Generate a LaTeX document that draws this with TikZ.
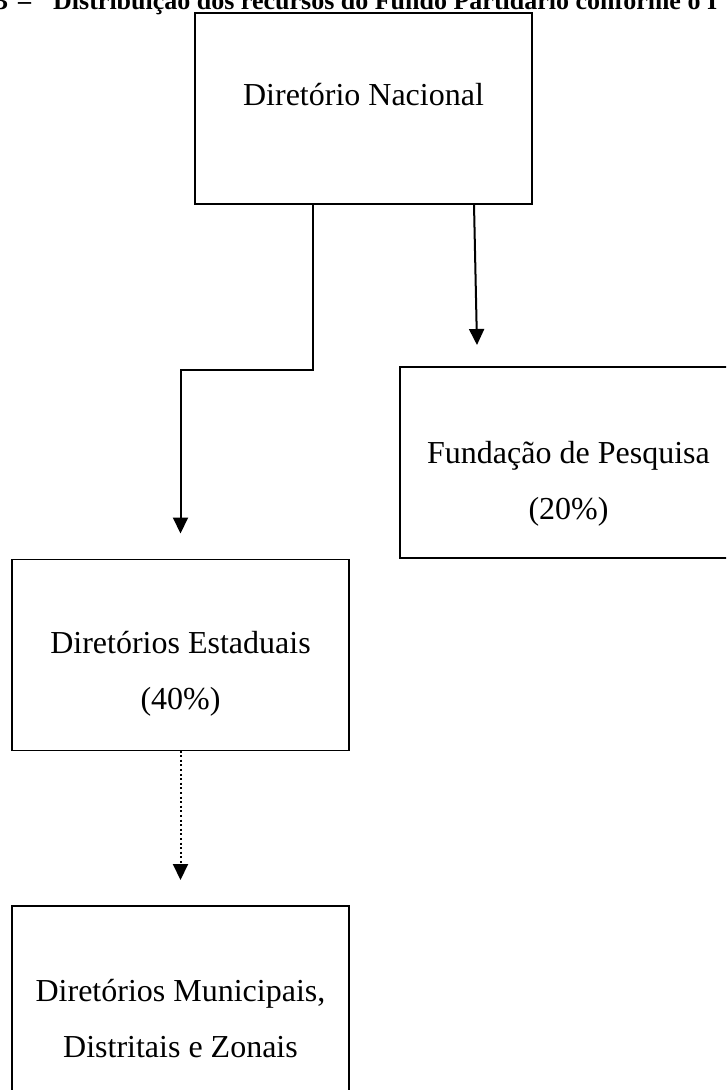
\documentclass[tikz,border=0pt]{standalone}
\usepackage{fontspec}
\setmainfont{Liberation Serif}
\usetikzlibrary{arrows.meta}
\begin{document}
\begin{tikzpicture}[x=1pt,y=-1pt,
  box/.style={draw=black, line width=1.4pt, minimum width=337pt, minimum height=191pt, inner sep=0pt, outer sep=0pt},
  txt/.style={anchor=base, inner sep=0pt, font=\fontsize{32pt}{38pt}\selectfont},
  ttl/.style={anchor=base west, inner sep=0pt, font=\fontsize{26pt}{30pt}\selectfont\bfseries},
  conn/.style={line width=2pt, -{Triangle[length=16pt,width=15pt]}},
  dotconn/.style={conn, dash pattern=on 2pt off 2.6pt}]
\useasboundingbox (0,0) rectangle (726,1090);
\clip (0,0) rectangle (726,1090);
\fill[white] (0,0) rectangle (726,1090);
% boxes
\node[box] (nac) at (363.5,108.5) {};
\node[box] (fund) at (568.5,462.5) {};
\node[box] (est) at (180.5,655) {};
\node[box] (mun) at (180.5,1001.5) {};
% title (cut at the top of the page, as in the reference)
\node[ttl] (title) at (53,9.5) {\llap{Figura 13\hspace{10pt}–\hspace{22pt}}Distribuição dos recursos do Fundo Partidário conforme o I};
% texts
\node[txt] (nacT) at (363.5,105) {Diretório Nacional};
\node[txt] (fundT1) at (568.5,463) {Fundação de Pesquisa};
\node[txt] (fundT2) at (568.5,519) {(20\%)};
\node[txt] (estT1) at (180.5,653) {Diretórios Estaduais};
\node[txt] (estT2) at (180.5,709) {(40\%)};
\node[txt] (munT1) at (180.5,1001) {Diretórios Municipais,};
\node[txt] (munT2) at (180.5,1057) {Distritais e Zonais};
% connectors
\draw[conn] ([xshift=-50.5pt]nac.south) |- ([yshift=190pt]est.north) -- ([yshift=26pt]est.north);
\draw[conn] ([xshift=110.5pt]nac.south) -- ([xshift=-91.5pt,yshift=22pt]fund.north);
\draw[dotconn] (est.south) -- ([yshift=26pt]mun.north);
\end{tikzpicture}
\end{document}
